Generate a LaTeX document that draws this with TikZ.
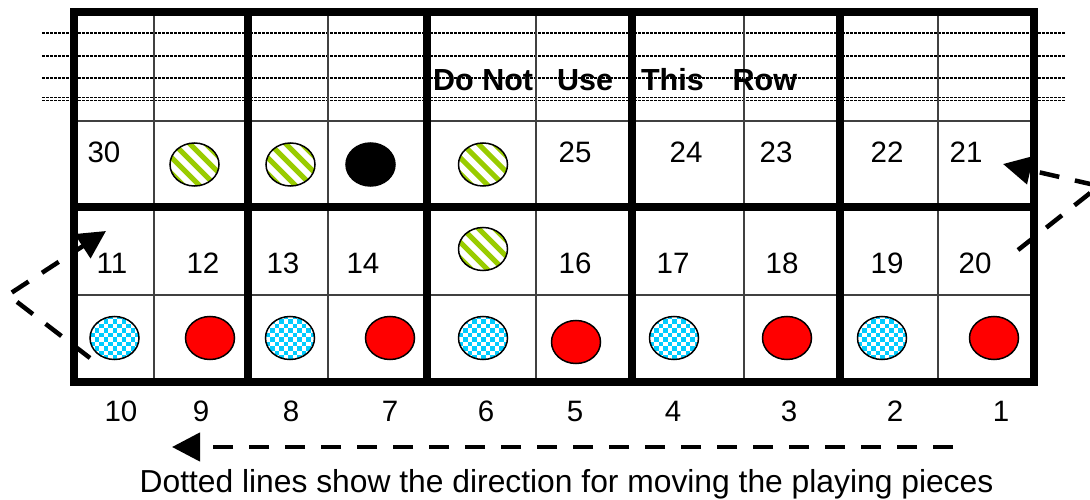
\documentclass[tikz,border=0pt]{standalone}
\usepackage{fontspec}
\setmainfont{Liberation Sans}
\usetikzlibrary{shapes.geometric,arrows.meta}
\definecolor{pcred}{RGB}{255,0,0}
\definecolor{pcblue}{RGB}{0,204,255}
\definecolor{pcgreen}{RGB}{153,204,0}
\newcommand\brdnum{\fontsize{29.5}{30}\selectfont}
\newcommand\brdtop{\fontsize{30.5}{31}\selectfont\bfseries}
\newcommand\brdcap{\fontsize{31.8}{32}\selectfont}
\tikzset{
  thingrid/.style={line width=1.4pt, draw=black!75},
  thickgrid/.style={line width=8pt, draw=black},
  guide/.style={line width=1.2pt, dash pattern=on 3pt off 1pt},
  piece/.style={ellipse, minimum width=49pt, minimum height=43pt, inner sep=0pt, draw=black, line width=1.5pt},
  redpc/.style={piece, fill=pcred},
  blackpc/.style={piece, fill=black},
  bluepc/.style={piece, fill=pcblue, path picture={
      \foreach \j in {0,...,11}{
        \pgfmathsetmacro\off{mod(\j,2)*4.5}
        \foreach \i in {0,9,...,54}{
          \fill[white] ([xshift={\i pt+\off pt}, yshift={\j*4.5pt}]path picture bounding box.south west) rectangle ++(4.5pt,4.5pt);
        }
      }
  }},
  greenpc/.style={piece, fill=white, path picture={
      \foreach \k in {-4,...,4}{
        \draw[pcgreen, line width=5pt] ([xshift={\k*16pt}]path picture bounding box.center) ++(-32pt,32pt) -- ++(64pt,-64pt);
      }
  }},
  num/.style={font=\brdnum, anchor=base, inner sep=0pt},
  movearrow/.style={line width=4.5pt, dash pattern=on 20pt off 16pt, -{Triangle[length=28pt,width=28pt]}},
}
\begin{document}
\begin{tikzpicture}[x=1pt,y=-1pt]
\useasboundingbox (0,0) rectangle (1090,500);
% guide lines of the unused row
\foreach \yy in {33,56,78}{
  \draw[guide] (42,\yy) -- (1065,\yy);
}
\draw[guide, line width=0.7pt] (42,97.5) -- (1065,97.5);
\draw[guide, line width=0.7pt] (42,100.5) -- (1065,100.5);
% thin grid
\foreach \xx in {154,328,536,744,938}{
  \draw[thingrid] (\xx,12) -- (\xx,382);
}
\draw[thingrid] (74,121) -- (1034,121);
\draw[thingrid] (74,295) -- (1034,295);
% thick grid
\draw[thickgrid] (74,12) rectangle (1034,382);
\draw[thickgrid] (74,207) -- (1034,207);
\foreach \xx in {248,427,632,840}{
  \draw[thickgrid] (\xx,12) -- (\xx,382);
}
% text of top row
\node[font=\brdtop, anchor=base west, inner sep=0pt] (dnu) at (433,91) {Do Not\hspace*{15.5pt} Use\hspace*{19.5pt} This\hspace*{20.5pt} Row};
% numbers row 2
\node[num] (n30) at (104,163) {30};
\node[num] (n25) at (575,163) {25};
\node[num] (n24) at (686,163) {24};
\node[num] (n23) at (776,163) {23};
\node[num] (n22) at (887,163) {22};
\node[num] (n21) at (966,163) {21};
% numbers row 3
\node[num] (n11) at (112,273) {11};
\node[num] (n12) at (203,273) {12};
\node[num] (n13) at (283,273) {13};
\node[num] (n14) at (363,273) {14};
\node[num] (n16) at (575,273) {16};
\node[num] (n17) at (673,273) {17};
\node[num] (n18) at (782,273) {18};
\node[num] (n19) at (887,273) {19};
\node[num] (n20) at (975,273) {20};
% numbers below board
\node[num] (b10) at (121,421) {10};
\node[num] (b9) at (201,421) {9};
\node[num] (b8) at (291,421) {8};
\node[num] (b7) at (390,421) {7};
\node[num] (b6) at (486,421) {6};
\node[num] (b5) at (575,421) {5};
\node[num] (b4) at (673,421) {4};
\node[num] (b3) at (789,421) {3};
\node[num] (b2) at (895,421) {2};
\node[num] (b1) at (1001,421) {1};
% pieces
\node[greenpc] (g1) at (194.5,164.5) {};
\node[greenpc] (g2) at (290.5,164.5) {};
\node[blackpc] (k1) at (370.5,164.5) {};
\node[greenpc] (g3) at (483,164.5) {};
\node[greenpc] (g4) at (483,249) {};
\node[bluepc] (u1) at (114.5,338) {};
\node[redpc] (r1) at (210,338) {};
\node[bluepc] (u2) at (290,338) {};
\node[redpc] (r2) at (390,338) {};
\node[bluepc] (u3) at (483,338) {};
\node[redpc] (r3) at (576,342) {};
\node[bluepc] (u4) at (674,338) {};
\node[redpc] (r4) at (787,338) {};
\node[bluepc] (u5) at (882,338) {};
\node[redpc] (r5) at (994,338) {};
% movement arrows
\coordinate (ra) at (1018,250);
\coordinate (rb) at (1099,186);
\coordinate (rc) at (1003,164);
\draw[movearrow] (ra) -- (rb) -- (rc);
\coordinate (la) at (90,358);
\coordinate (lb) at (8,295);
\coordinate (lc) at (106,231);
\draw[movearrow] (la) -- (lb) -- (lc);
\coordinate (ba) at (953,447);
\coordinate (bb) at (172,447);
\draw[movearrow] (ba) -- (bb);
% caption
\node[font=\brdcap, anchor=base, inner sep=0pt] (cap) at (566.5,492) {Dotted lines show the direction for moving the playing pieces};
\end{tikzpicture}
\end{document}
